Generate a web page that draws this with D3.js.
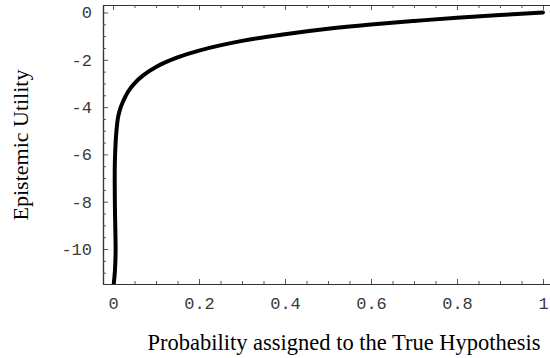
<!DOCTYPE html>
<html>
<head>
<meta charset="utf-8">
<script src="https://cdn.jsdelivr.net/npm/d3@7"></script>
<style>
  body { margin: 0; background: #fff; }
  svg { display: block; }
</style>
</head>
<body>
<div id="chart"></div>
<script>
// values (probability, utility)
const probs = [1, 0.9, 0.8, 0.7, 0.6, 0.5, 0.4, 0.3, 0.2, 0.15, 0.1, 0.07, 0.05, 0.035,
  0.025, 0.018, 0.012, 0.008, 0.0055, 0.0042, 0.004, 0.0045, 0.0055, 0.006, 0.0045, 0.001];
const utils = [0, -0.105, -0.22, -0.36, -0.51, -0.69, -0.92, -1.2, -1.61, -1.9, -2.3, -2.66, -3.0, -3.35,
  -3.7, -4.0, -4.4, -5.0, -5.7, -6.4, -7.3, -8.3, -9.3, -10.1, -10.9, -11.6];

const xTicks = [0, 0.2, 0.4, 0.6, 0.8, 1];
const xTickLabels = ["0", "0.2", "0.4", "0.6", "0.8", "1"];
const yTicks = [0, -2, -4, -6, -8, -10];
const yTickLabels = ["0", "-2", "-4", "-6", "-8", "-10"];
const xMinorStep = 0.05;
const yMinorStep = 0.5;

const xTitle = "Probability assigned to the True Hypothesis";
const yTitle = "Epistemic Utility";

const width = 550, height = 358;

const svg = d3.select("#chart").append("svg")
    .attr("width", width)
    .attr("height", height)

// plot frame: left edge at 103, bottom 284, top 5, open on the right
const x = d3.scaleLinear().domain([-0.0233, 1.0163]).range([103, 550])
const y = d3.scaleLinear().domain([-11.48, 0.317]).range([284, 5])

const axisColor = "#333";

// minor ticks
const xMinor = d3.range(0, 1.0001, xMinorStep).filter(v => !xTicks.some(t => Math.abs(t - v) < 1e-6))
const yMinor = d3.range(0, -11.4, -yMinorStep).filter(v => !yTicks.some(t => Math.abs(t - v) < 1e-6))

const g = svg.append("g")

// bottom axis (ticks pointing up into the plot)
const xAxisB = d3.axisBottom(x).tickValues(xTicks).tickFormat((d, i) => xTickLabels[i])
    .tickSizeInner(-5).tickSizeOuter(0).tickPadding(13)
g.append("g").attr("transform", `translate(0,${y.range()[0]})`).call(xAxisB)
g.append("g").attr("transform", `translate(0,${y.range()[0]})`)
    .call(d3.axisBottom(x).tickValues(xMinor).tickFormat("").tickSizeInner(-3).tickSizeOuter(0))

// top frame (ticks pointing down)
g.append("g").attr("transform", `translate(0,${y.range()[1]})`)
    .call(d3.axisTop(x).tickValues(xTicks).tickFormat("").tickSizeInner(-5).tickSizeOuter(0))
g.append("g").attr("transform", `translate(0,${y.range()[1]})`)
    .call(d3.axisTop(x).tickValues(xMinor).tickFormat("").tickSizeInner(-3).tickSizeOuter(0))

// left axis (ticks pointing right)
g.append("g").attr("transform", `translate(${x.range()[0]},0)`)
    .call(d3.axisLeft(y).tickValues(yTicks).tickFormat((d, i) => yTickLabels[i])
        .tickSizeInner(-5).tickSizeOuter(0).tickPadding(11))
g.append("g").attr("transform", `translate(${x.range()[0]},0)`)
    .call(d3.axisLeft(y).tickValues(yMinor).tickFormat("").tickSizeInner(-3).tickSizeOuter(0))

g.selectAll(".domain").attr("stroke", axisColor).attr("stroke-width", 1.2)
g.selectAll(".tick line").attr("stroke", "#555").attr("stroke-width", 1)
g.selectAll(".tick text")
    .style("font-family", "'Liberation Mono', 'Courier New', monospace")
    .style("font-size", "17px")
    .attr("fill", "#3a3a3a")

// clip the curve to the frame
svg.append("clipPath").attr("id", "plotclip")
    .append("rect")
    .attr("x", x.range()[0]).attr("y", y.range()[1])
    .attr("width", x.range()[1] - x.range()[0])
    .attr("height", y.range()[0] - y.range()[1])

const points = probs.map((p, i) => [p, utils[i]])

const line = d3.line()
    .x(d => x(d[0]))
    .y(d => y(d[1]))
    .curve(d3.curveCatmullRom.alpha(0.5))

svg.append("path")
    .datum(points)
    .attr("clip-path", "url(#plotclip)")
    .attr("d", line)
    .attr("fill", "none")
    .attr("stroke", "#000")
    .attr("stroke-width", 4)
    .attr("stroke-linecap", "round")
    .attr("stroke-linejoin", "round")

// axis titles
svg.append("text")
    .attr("x", 344)
    .attr("y", 350)
    .attr("text-anchor", "middle")
    .style("font-family", "'Liberation Serif', 'Times New Roman', serif")
    .style("font-size", "22.5px")
    .text(xTitle)

svg.append("text")
    .attr("transform", "translate(28,145) rotate(-90)")
    .attr("text-anchor", "middle")
    .style("font-family", "'Liberation Serif', 'Times New Roman', serif")
    .style("font-size", "22px")
    .text(yTitle)
</script>
</body>
</html>
